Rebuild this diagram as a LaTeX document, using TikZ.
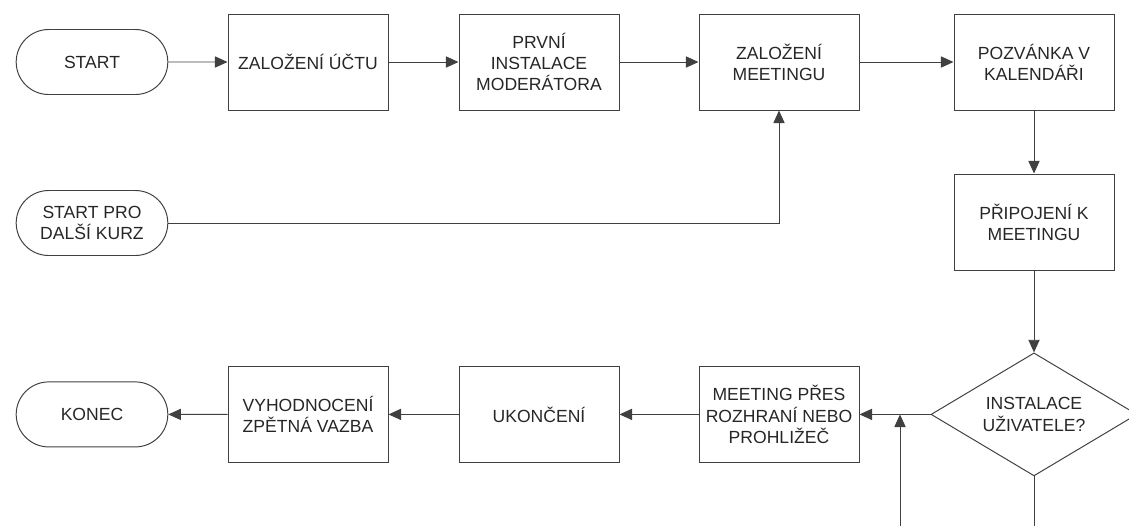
\documentclass[tikz,border=0pt]{standalone}
\usepackage{fontspec}
\setmainfont{Liberation Sans}
\usetikzlibrary{shapes.geometric, shapes.misc, arrows.meta}
\tikzstyle{startstop} = [rounded rectangle, minimum width=4.025cm, minimum height=1.625cm, align=center, draw=black!75, line width=0.7pt]
\tikzstyle{process} = [rectangle, minimum width=4cm, minimum height=2.4cm, align=center, draw=black!75, line width=0.7pt]
\tikzstyle{decision} = [diamond, aspect=1.675, minimum width=5.15cm, minimum height=3.075cm, inner sep=0pt, align=center, draw=black!75, line width=0.7pt]
\tikzstyle{arrow} = [line width=0.7pt, draw=black!75, -{Triangle[length=9pt,width=8pt]}]
\tikzstyle{line} = [line width=0.7pt, draw=black!75]

\begin{document}
\begin{tikzpicture}[node distance=6cm, font=\fontsize{12.5}{15}\selectfont, text=black!85]
\useasboundingbox (0,0) rectangle (28.225,-13.125);

\node (start) [startstop] at (2.3,-1.55) {START};
\node (account) [process, right of=start, xshift=-0.6cm] {ZALOŽENÍ ÚČTU};
\node (moderator) [process, right of=account, xshift=-0.225cm] {PRVNÍ\\INSTALACE\\MODERÁTORA};
\node (meeting) [process, right of=moderator] {ZALOŽENÍ\\MEETINGU};
\node (invite) [process, right of=meeting, xshift=0.375cm] {POZVÁNKA V\\KALENDÁŘI};
\node (restart) [startstop, below of=start, yshift=1.975cm] {START PRO\\DALŠÍ KURZ};
\node (connect) [process, below of=invite, yshift=2cm] {PŘIPOJENÍ K\\MEETINGU};
\node (install) [decision, below of=connect, yshift=1.19cm] {INSTALACE\\UŽIVATELE?};
\node (browser) [process, left of=install, xshift=-0.375cm] {MEETING PŘES\\ROZHRANÍ NEBO\\PROHLIŽEČ};
\node (finish) [process, left of=browser] {UKONČENÍ};
\node (feedback) [process, left of=finish, xshift=0.225cm] {VYHODNOCENÍ\\ZPĚTNÁ VAZBA};
\node (stop) [startstop, left of=feedback, xshift=0.6cm] {KONEC};

% free ends below the cut edge
\coordinate (loopdown) at (install.south |- 0,-13.3);
\coordinate (loopup) at (22.5,-13.3);

\draw [arrow] (start) -- (account);
\draw [arrow] (account) -- (moderator);
\draw [arrow] (moderator) -- (meeting);
\draw [arrow] (meeting) -- (invite);
\draw [arrow] (restart) -| (meeting);
\draw [arrow] (invite) -- (connect);
\draw [arrow] (connect) -- (install);
\draw [arrow] (install) -- (browser);
\draw [line] (install.south) -- (loopdown);
\draw [arrow] (loopup) -- (loopup |- install.west);
\draw [arrow] (browser) -- (finish);
\draw [arrow] (finish) -- (feedback);
\draw [arrow] (feedback) -- (stop);

\end{tikzpicture}
\end{document}
